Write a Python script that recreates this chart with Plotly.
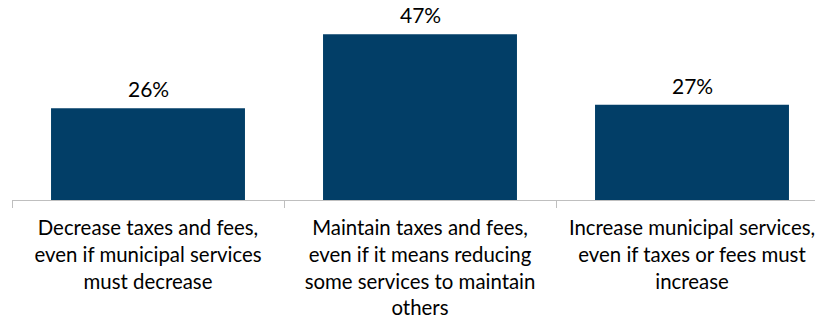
import plotly.graph_objects as go

categories = [
    "Decrease taxes and fees,<br>even if municipal services<br>must decrease",
    "Maintain taxes and fees,<br>even if it means reducing<br>some services to maintain<br>others",
    "Increase municipal services,<br>even if taxes or fees must<br>increase",
]
shares = [26, 47, 27]
share_labels = [f"{v}%" for v in shares]

BAR_COLOR = "#023E67"
AXIS_COLOR = "#BFBFBF"
FONT = "Lato"

fig = go.Figure(
    go.Bar(
        x=categories,
        y=shares,
        marker=dict(color=BAR_COLOR, line=dict(width=0)),
        cliponaxis=False,
        hoverinfo="skip",
    )
)

# value labels sitting above each bar
for cat, val, lab in zip(categories, shares, share_labels):
    fig.add_annotation(
        x=cat,
        y=val,
        text=lab,
        showarrow=False,
        yanchor="bottom",
        yshift=5,
        font=dict(family=FONT, size=21, color="#000000"),
    )

fig.update_layout(
    width=815,
    height=322,
    margin=dict(l=12, r=0, t=0, b=122),
    paper_bgcolor="white",
    plot_bgcolor="white",
    bargap=0.287,
    showlegend=False,
    font=dict(family=FONT, size=20.4, color="#000000"),
)

fig.update_xaxes(
    type="category",
    range=[-0.5, 2.5 - 13 / 272],
    showline=True,
    linecolor=AXIS_COLOR,
    linewidth=1,
    ticks="outside",
    tickson="boundaries",
    ticklen=7,
    tickcolor=AXIS_COLOR,
    ticklabelstandoff=10,
    tickfont=dict(family=FONT, size=20.4, color="#000000"),
    showgrid=False,
    zeroline=False,
)

fig.update_yaxes(
    range=[0, 56.7],
    visible=False,
    showgrid=False,
    zeroline=False,
)

fig.write_html("out.html")
